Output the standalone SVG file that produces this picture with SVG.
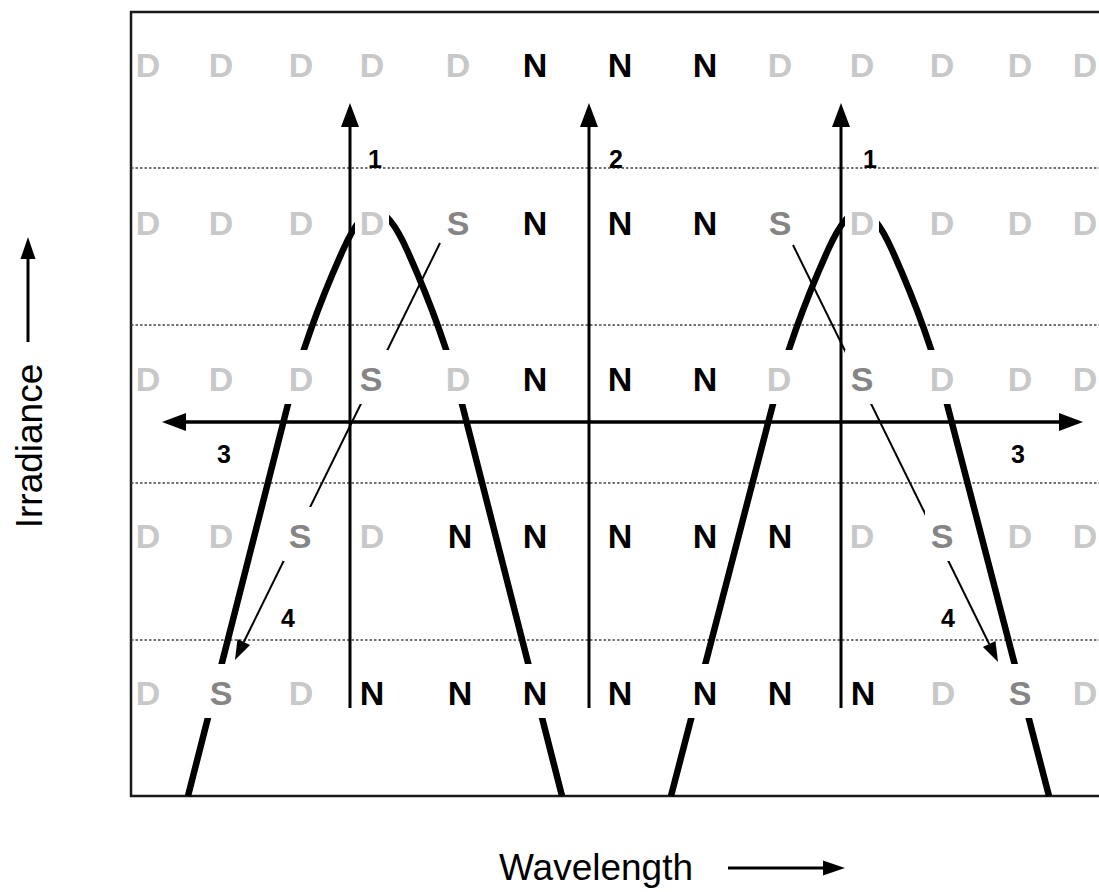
<svg xmlns="http://www.w3.org/2000/svg" width="1099" height="892" viewBox="0 0 1099 892">
<style>
.l{font-family:"Liberation Sans",Arial,sans-serif;font-weight:bold;font-size:34px;text-anchor:middle}
.d{fill:#c8c8c8}.s{fill:#858585}.n{fill:#000}
.num{font-family:"Liberation Sans",Arial,sans-serif;font-weight:bold;font-size:25px;text-anchor:middle;fill:#000}
.ax{font-family:"Liberation Sans",Arial,sans-serif;font-size:37px;fill:#000}
.dot{stroke:#444;stroke-width:1.3;stroke-dasharray:2.5 2;fill:none}
.curve{stroke:#000;stroke-width:6.5;fill:none}
.ko{fill:#fff}
</style>
<defs>
<marker id="ah" markerUnits="userSpaceOnUse" markerWidth="30" markerHeight="30" refX="0" refY="9" orient="auto-start-reverse" viewBox="0 0 30 18" overflow="visible">
<path d="M0,0 L24,9 L0,18 z" fill="#000"/>
</marker>
<marker id="ad" markerUnits="userSpaceOnUse" markerWidth="24" markerHeight="16" refX="0" refY="7" orient="auto" viewBox="0 0 24 14" overflow="visible">
<path d="M0,0 L20,7 L0,14 z" fill="#000"/>
</marker>
<marker id="aw" markerUnits="userSpaceOnUse" markerWidth="24" markerHeight="16" refX="0" refY="7.5" orient="auto" viewBox="0 0 24 15" overflow="visible">
<path d="M0,0 L22,7.5 L0,15 z" fill="#000"/>
</marker>
</defs>
<rect width="1099" height="892" fill="#fff"/>
<rect id="frame" x="131" y="12" width="1000" height="784" fill="none" stroke="#1a1a1a" stroke-width="2.5"/>
<g id="gridlines">
<line class="dot" x1="131" y1="168" x2="1099" y2="168"/>
<line class="dot" x1="131" y1="325" x2="1099" y2="325"/>
<line class="dot" x1="131" y1="483" x2="1099" y2="483"/>
<line class="dot" x1="131" y1="640" x2="1099" y2="640"/>
</g>
<g id="curves">
<path class="curve" d="M188 796 L288 404 C301 353,320 301,343 250 C352 230,363 211,375 211 C387 211,398 230,407 250 C430 301,449 353,462 404 L562 796"/>
<path class="curve" d="M671 796 L773 404 C786 353,805 301,828 250 C837 230,848 211,860 211 C872 211,883 230,892 250 C915 301,934 353,947 404 L1049 796"/>
</g>
<g id="connectors">
<line x1="440" y1="243" x2="243.8" y2="642" stroke="#000" stroke-width="2" marker-end="url(#ad)"/>
<line x1="793" y1="245" x2="989.2" y2="644" stroke="#000" stroke-width="2" marker-end="url(#ad)"/>
</g>
<g id="knockouts">
<rect class="ko" x="355" y="194" width="34" height="54"/>
<rect class="ko" x="845" y="194" width="34" height="54"/>
<rect class="ko" x="284" y="350" width="34" height="54"/>
<rect class="ko" x="354" y="350" width="34" height="54"/>
<rect class="ko" x="441" y="350" width="34" height="54"/>
<rect class="ko" x="762" y="350" width="34" height="54"/>
<rect class="ko" x="845" y="350" width="34" height="54"/>
<rect class="ko" x="925" y="350" width="34" height="54"/>
<rect class="ko" x="283" y="507" width="34" height="54"/>
<rect class="ko" x="925" y="507" width="34" height="54"/>
<rect class="ko" x="204" y="664" width="34" height="54"/>
<rect class="ko" x="518" y="664" width="34" height="54"/>
<rect class="ko" x="688" y="664" width="34" height="54"/>
<rect class="ko" x="1003" y="664" width="34" height="54"/>
</g>
<g id="axes-arrows">
<line x1="350" y1="708" x2="350" y2="127" stroke="#000" stroke-width="3" marker-end="url(#ah)"/>
<line x1="589" y1="708" x2="589" y2="127" stroke="#000" stroke-width="3" marker-end="url(#ah)"/>
<line x1="841" y1="708" x2="841" y2="127" stroke="#000" stroke-width="3" marker-end="url(#ah)"/>
<line x1="186" y1="422" x2="1059" y2="422" stroke="#000" stroke-width="3.5" marker-start="url(#ah)" marker-end="url(#ah)"/>
</g>
<g id="row1" class="l">
<text class="d" x="148" y="77">D</text><text class="d" x="221" y="77">D</text><text class="d" x="301" y="77">D</text><text class="d" x="372" y="77">D</text><text class="d" x="458" y="77">D</text>
<text class="n" x="535" y="77">N</text><text class="n" x="620" y="77">N</text><text class="n" x="705" y="77">N</text>
<text class="d" x="780" y="77">D</text><text class="d" x="862" y="77">D</text><text class="d" x="942" y="77">D</text><text class="d" x="1020" y="77">D</text><text class="d" x="1085" y="77">D</text>
</g>
<g id="row2" class="l">
<text class="d" x="148" y="235">D</text><text class="d" x="221" y="235">D</text><text class="d" x="301" y="235">D</text><text class="d" x="372" y="235">D</text><text class="s" x="458" y="235">S</text>
<text class="n" x="535" y="235">N</text><text class="n" x="620" y="235">N</text><text class="n" x="705" y="235">N</text>
<text class="s" x="780" y="235">S</text><text class="d" x="862" y="235">D</text><text class="d" x="942" y="235">D</text><text class="d" x="1020" y="235">D</text><text class="d" x="1085" y="235">D</text>
</g>
<g id="row3" class="l">
<text class="d" x="148" y="391">D</text><text class="d" x="221" y="391">D</text><text class="d" x="301" y="391">D</text><text class="s" x="371" y="391">S</text><text class="d" x="458" y="391">D</text>
<text class="n" x="535" y="391">N</text><text class="n" x="620" y="391">N</text><text class="n" x="705" y="391">N</text>
<text class="d" x="779" y="391">D</text><text class="s" x="862" y="391">S</text><text class="d" x="942" y="391">D</text><text class="d" x="1020" y="391">D</text><text class="d" x="1085" y="391">D</text>
</g>
<g id="row4" class="l">
<text class="d" x="148" y="548">D</text><text class="d" x="221" y="548">D</text><text class="s" x="300" y="548">S</text><text class="d" x="372" y="548">D</text><text class="n" x="460" y="548">N</text>
<text class="n" x="535" y="548">N</text><text class="n" x="620" y="548">N</text><text class="n" x="705" y="548">N</text>
<text class="n" x="780" y="548">N</text><text class="d" x="862" y="548">D</text><text class="s" x="942" y="548">S</text><text class="d" x="1020" y="548">D</text><text class="d" x="1085" y="548">D</text>
</g>
<g id="row5" class="l">
<text class="d" x="148" y="705">D</text><text class="s" x="221" y="705">S</text><text class="d" x="301" y="705">D</text><text class="n" x="372" y="705">N</text><text class="n" x="460" y="705">N</text>
<text class="n" x="535" y="705">N</text><text class="n" x="620" y="705">N</text><text class="n" x="705" y="705">N</text>
<text class="n" x="780" y="705">N</text><text class="n" x="863" y="705">N</text><text class="d" x="943" y="705">D</text><text class="s" x="1020" y="705">S</text><text class="d" x="1085" y="705">D</text>
</g>
<g id="labels">
<text class="num" x="375" y="168">1</text>
<text class="num" x="616" y="168">2</text>
<text class="num" x="870" y="168">1</text>
<text class="num" x="224" y="463">3</text>
<text class="num" x="1018" y="463">3</text>
<text class="num" x="288" y="627">4</text>
<text class="num" x="948" y="627">4</text>
</g>
<g id="axis-labels">
<text class="ax" x="499" y="880">Wavelength</text>
<line x1="728" y1="868" x2="823" y2="868" stroke="#000" stroke-width="3" marker-end="url(#aw)"/>
<text class="ax" transform="translate(42,446) rotate(-90)" text-anchor="middle" font-size="35">Irradiance</text>
<line x1="28" y1="342" x2="28" y2="259" stroke="#000" stroke-width="3" marker-end="url(#aw)"/>
</g>
</svg>
